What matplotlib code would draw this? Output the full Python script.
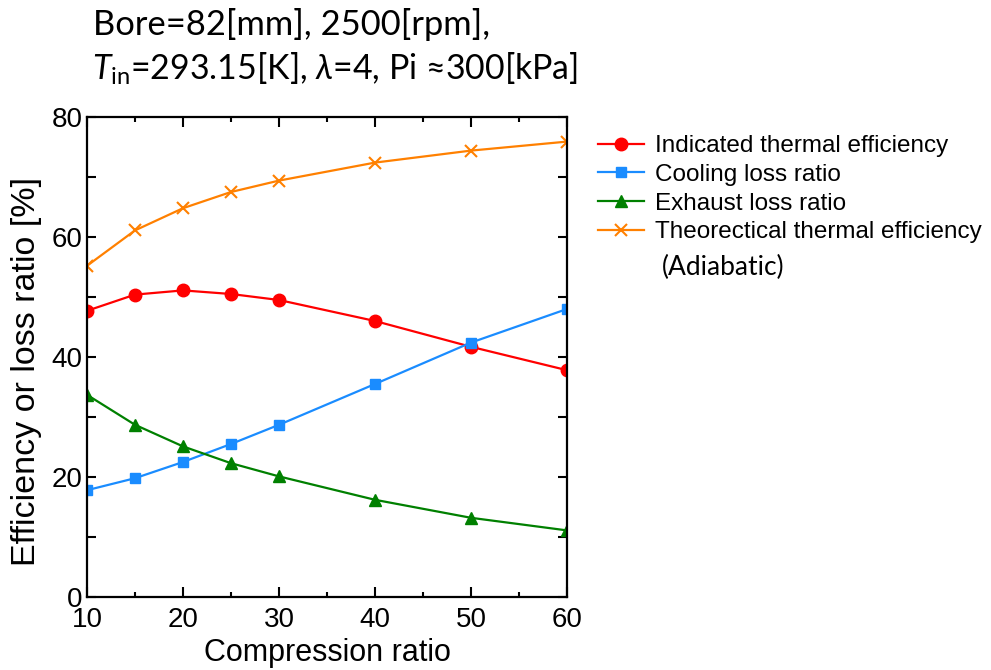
import matplotlib
matplotlib.use("Agg")
import matplotlib.pyplot as plt
from matplotlib.ticker import MultipleLocator

compression_ratio = [10, 15, 20, 25, 30, 40, 50, 60]
indicated_eff = [47.7, 50.4, 51.1, 50.5, 49.5, 46.0, 41.7, 37.8]
cooling_loss = [17.8, 19.8, 22.5, 25.5, 28.7, 35.5, 42.4, 48.0]
exhaust_loss = [33.7, 28.7, 25.1, 22.3, 20.1, 16.2, 13.2, 11.1]
theoretical_eff = [55.2, 61.1, 64.8, 67.5, 69.4, 72.4, 74.4, 75.9]

labels = ["Indicated thermal efficiency", "Cooling loss ratio",
          "Exhaust loss ratio", "Theorectical thermal efficiency"]

plt.rcParams['font.family'] = ['Liberation Sans', 'DejaVu Sans']
plt.rcParams['mathtext.fontset'] = 'custom'
plt.rcParams['mathtext.it'] = 'Lato:italic'
plt.rcParams['mathtext.rm'] = 'Lato'

fig = plt.figure(figsize=(9.91, 6.70), dpi=100)
ax = fig.add_axes([87/991, 1-597/670, 480/991, 480/670])

lw = 1.6
ax.plot(compression_ratio, indicated_eff, color='#ff0000', lw=lw, marker='o', ms=9, label=labels[0])
ax.plot(compression_ratio, cooling_loss, color='#1a8cff', lw=lw, marker='s', ms=6.5, label=labels[1])
ax.plot(compression_ratio, exhaust_loss, color='#008000', lw=lw, marker='^', ms=8, label=labels[2])
ax.plot(compression_ratio, theoretical_eff, color='#ff8000', lw=lw, marker='x', ms=9, mew=1.5, label=labels[3])

ax.set_xlim(10, 60)
ax.set_ylim(0, 80)
ax.xaxis.set_major_locator(MultipleLocator(10))
ax.xaxis.set_minor_locator(MultipleLocator(5))
ax.yaxis.set_major_locator(MultipleLocator(20))
ax.yaxis.set_minor_locator(MultipleLocator(10))
ax.tick_params(which='both', direction='in', top=True, right=True, width=1.5, labelsize=20)
ax.tick_params(axis='x', which='both', pad=7.5)
ax.tick_params(axis='y', which='both', pad=3)
ax.tick_params(axis='x', which='major', length=7)
ax.tick_params(axis='x', which='minor', length=3.5)
ax.tick_params(axis='y', which='both', length=6.5)
for s in ax.spines.values():
    s.set_linewidth(1.6)

ax.set_xlabel("Compression ratio", fontsize=22, labelpad=3)
ax.set_ylabel("Efficiency or loss ratio [%]", fontsize=24.5)
ax.yaxis.set_label_coords(-0.094, 0.469)

leg = ax.legend(loc='upper left', bbox_to_anchor=(598/991, 1-135/670), bbox_transform=fig.transFigure,
                frameon=False, fontsize=17.5, handlelength=1.9, handletextpad=0.45,
                labelspacing=0.28, borderaxespad=0, borderpad=0)

fig.text(662/991, 1-267/670, "(Adiabatic)", fontsize=19, family=['Lato', 'DejaVu Sans'],
         va='center', ha='left')

fig.text(93/991, 1-35/670, "Bore=82[mm], 2500[rpm],", fontsize=24.8,
         family=['Lato', 'DejaVu Sans'], va='baseline', ha='left')
fig.text(92/991, 1-80/670, r"$\mathit{T}_{\mathrm{in}}$=293.15[K], $\mathit{\lambda}$=4, Pi ≈300[kPa]", fontsize=24.4,
         family=['Lato', 'DejaVu Sans'], va='baseline', ha='left')

fig.savefig("out.png", dpi=100)
